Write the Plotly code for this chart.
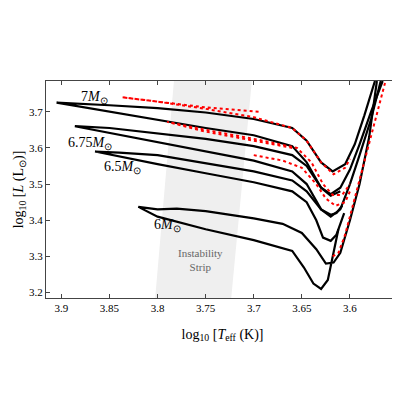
import plotly.graph_objects as go

# black tracks: (logTeff, logL) along each track
tracks = {
    "6": ([3.612, 3.618, 3.623, 3.630, 3.638, 3.648, 3.660, 3.700, 3.750, 3.800, 3.820,
           3.800, 3.780, 3.750, 3.700, 3.670, 3.650, 3.635, 3.625, 3.617, 3.610, 3.600, 3.590, 3.580, 3.572],
          [3.375, 3.300, 3.235, 3.210, 3.225, 3.270, 3.315, 3.345, 3.375, 3.410, 3.437,
           3.430, 3.432, 3.425, 3.405, 3.390, 3.365, 3.320, 3.280, 3.283, 3.310, 3.400, 3.500, 3.630, 3.785]),
    "6.5": ([3.606, 3.614, 3.620, 3.628, 3.635, 3.645, 3.660, 3.700, 3.750, 3.800, 3.865,
             3.840, 3.800, 3.750, 3.700, 3.660, 3.645, 3.630, 3.620, 3.610, 3.600, 3.590, 3.578, 3.568],
            [3.420, 3.360, 3.343, 3.352, 3.400, 3.450, 3.480, 3.505, 3.530, 3.555, 3.590,
             3.587, 3.580, 3.557, 3.535, 3.510, 3.480, 3.430, 3.410, 3.430, 3.500, 3.580, 3.680, 3.785]),
    "6.75": ([3.608, 3.614, 3.620, 3.630, 3.645, 3.660, 3.700, 3.750, 3.800, 3.886,
              3.850, 3.800, 3.750, 3.700, 3.660, 3.645, 3.630, 3.620, 3.610, 3.600, 3.590, 3.578, 3.566],
             [3.440, 3.420, 3.415, 3.430, 3.500, 3.535, 3.565, 3.590, 3.615, 3.660,
              3.655, 3.640, 3.625, 3.605, 3.580, 3.550, 3.490, 3.472, 3.490, 3.540, 3.610, 3.700, 3.785]),
    "7": ([3.610, 3.620, 3.630, 3.645, 3.660, 3.700, 3.750, 3.800, 3.850, 3.905,
           3.850, 3.800, 3.750, 3.700, 3.660, 3.645, 3.630, 3.618, 3.605, 3.595, 3.585, 3.574],
          [3.480, 3.468, 3.490, 3.560, 3.605, 3.635, 3.655, 3.678, 3.700, 3.725,
           3.718, 3.710, 3.698, 3.680, 3.655, 3.620, 3.560, 3.535, 3.555, 3.610, 3.690, 3.785]),
}

# red dashed comparison tracks
red_tracks = [
    ([3.695, 3.750, 3.800, 3.837, 3.800, 3.750, 3.700, 3.660, 3.645, 3.630, 3.617, 3.605, 3.600],
     [3.700, 3.712, 3.728, 3.740, 3.728, 3.708, 3.685, 3.655, 3.620, 3.560, 3.527, 3.545, 3.570]),
    ([3.660, 3.700, 3.750, 3.790, 3.750, 3.700, 3.655, 3.640, 3.628, 3.618, 3.608, 3.600],
     [3.600, 3.620, 3.645, 3.672, 3.650, 3.625, 3.600, 3.560, 3.500, 3.470, 3.470, 3.500]),
    ([3.700, 3.670, 3.650, 3.635, 3.625, 3.615, 3.605, 3.600],
     [3.580, 3.565, 3.545, 3.500, 3.460, 3.440, 3.450, 3.480]),
    ([3.618, 3.612, 3.605, 3.598, 3.590, 3.580, 3.570, 3.563],
     [3.300, 3.310, 3.360, 3.430, 3.510, 3.610, 3.710, 3.785]),
]

strip_x = [3.803, 3.724, 3.702, 3.783, 3.803]
strip_y = [3.169, 3.169, 3.785, 3.785, 3.169]

labels = ["7<i>M</i><sub>⊙</sub>", "6.75<i>M</i><sub>⊙</sub>", "6.5<i>M</i><sub>⊙</sub>", "6<i>M</i><sub>⊙</sub>"]
label_x = [3.866, 3.870, 3.836, 3.790]
label_y = [3.740, 3.612, 3.545, 3.385]

serif = "Liberation Serif"
fig = go.Figure()
fig.add_trace(go.Scatter(x=strip_x, y=strip_y, fill="toself", fillcolor="#efefef",
                         line=dict(width=0), mode="lines", hoverinfo="skip"))
for k, (x, y) in tracks.items():
    fig.add_trace(go.Scatter(x=x, y=y, mode="lines", line=dict(color="black", width=2.2)))
for x, y in red_tracks:
    fig.add_trace(go.Scatter(x=x, y=y, mode="lines", line=dict(color="red", width=2, dash="dot")))

for t, x, y in zip(labels, label_x, label_y):
    fig.add_annotation(x=x, y=y, text=t, showarrow=False, font=dict(family=serif, size=14, color="black"))
fig.add_annotation(x=3.755, y=3.29, text="Instability<br>Strip", showarrow=False,
                   font=dict(family=serif, size=11, color="#666"))

ax = dict(showline=True, linecolor="#444", mirror="ticks", ticks="inside", ticklen=4,
          showgrid=False, zeroline=False, automargin=False,
          tickfont=dict(family=serif, size=11, color="black"))
fig.update_xaxes(**ax, range=[3.916, 3.549], dtick=0.05,
                 title=dict(text="log<sub>10</sub> [<i>T</i><sub>eff</sub> (K)]",
                            font=dict(family=serif, size=14, color="black")))
fig.update_yaxes(**ax, range=[3.185, 3.785], dtick=0.1,
                 title=dict(text="log<sub>10</sub> [<i>L</i> (L<sub>⊙</sub>)]",
                            font=dict(family=serif, size=14, color="black"), standoff=2))
fig.update_layout(width=400, height=400, showlegend=False, plot_bgcolor="white", paper_bgcolor="white",
                  margin=dict(l=38, r=9, t=73, b=110))
fig.write_html("out.html")
